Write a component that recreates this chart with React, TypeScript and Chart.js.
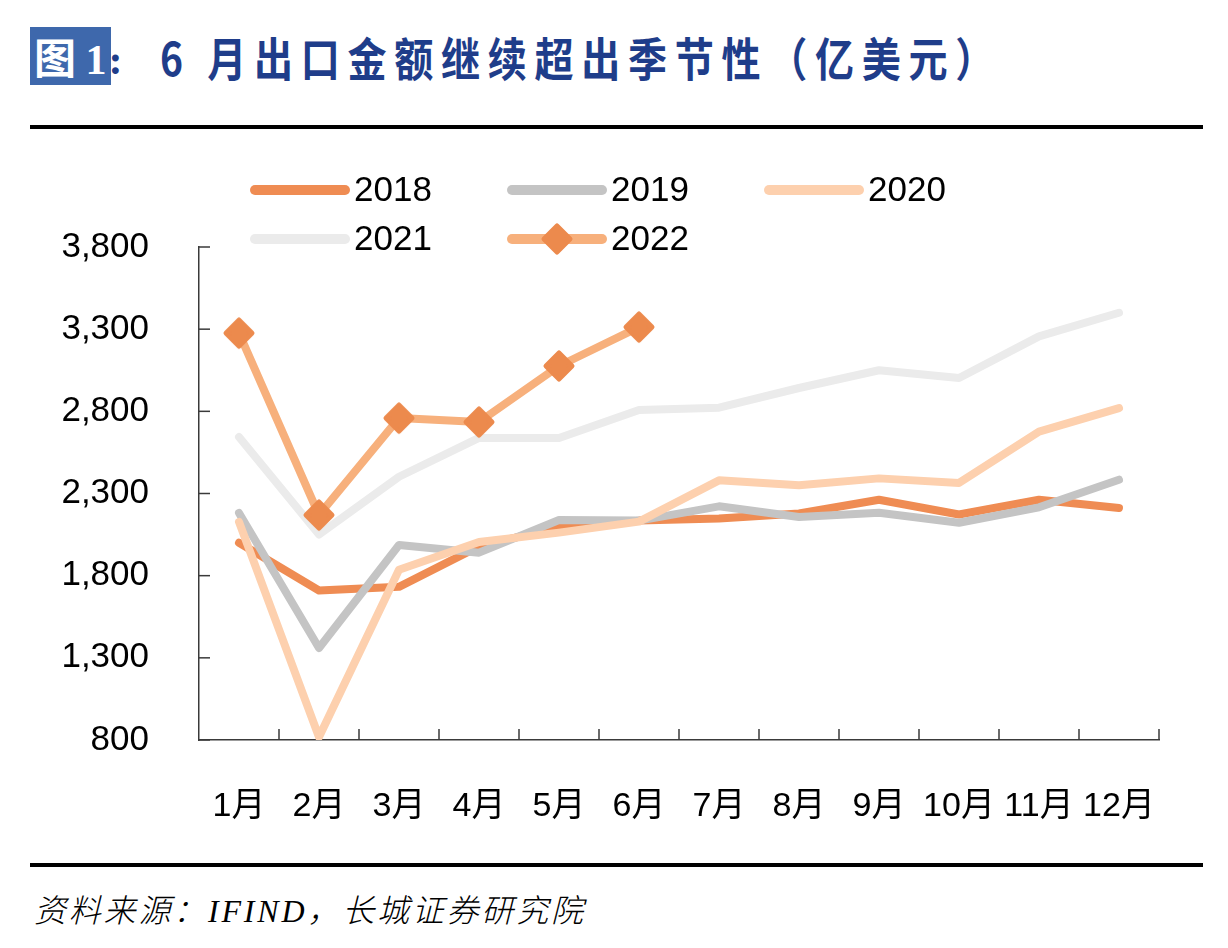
import React, { useEffect, useRef } from 'react';
import { Chart, registerables } from 'chart.js';

Chart.register(...registerables);

const months = ['1月', '2月', '3月', '4月', '5月', '6月', '7月', '8月', '9月', '10月', '11月', '12月'];
const seriesNames = ['2018', '2019', '2020', '2021', '2022'];
const values2018 = [2000, 1710, 1732, 1978, 2095, 2135, 2148, 2178, 2262, 2172, 2262, 2212];
const values2019 = [2181, 1360, 1987, 1940, 2139, 2135, 2222, 2157, 2183, 2122, 2216, 2384];
const values2020 = [2127, 818, 1836, 2005, 2062, 2129, 2380, 2350, 2392, 2364, 2676, 2820];
const values2021 = [2644, 2050, 2402, 2638, 2638, 2808, 2822, 2942, 3050, 3003, 3256, 3400];
const values2022 = [3276, 2169, 2759, 2735, 3076, 3313, null, null, null, null, null, null];
const yTickValues = [800, 1300, 1800, 2300, 2800, 3300, 3800];

const lineColors = ['#EF8C53', '#C4C4C4', '#FDD0AE', '#EBEBEB', '#F7B07C'];
const markerColor = '#EC8A4D';

function makeDiamond(): HTMLCanvasElement {
  const c = document.createElement('canvas');
  c.width = 34;
  c.height = 34;
  const g = c.getContext('2d')!;
  g.fillStyle = markerColor;
  g.strokeStyle = markerColor;
  g.lineWidth = 5;
  g.lineJoin = 'round';
  g.beginPath();
  g.moveTo(17, 4);
  g.lineTo(30, 17);
  g.lineTo(17, 30);
  g.lineTo(4, 17);
  g.closePath();
  g.fill();
  g.stroke();
  return c;
}

const inwardTicks = {
  id: 'inwardTicks',
  beforeDatasetsDraw(chart: any) {
    const { ctx, chartArea, scales } = chart;
    const xs = scales.x;
    const ys = scales.y;
    ctx.save();
    ctx.strokeStyle = '#3a3a3a';
    ctx.lineWidth = 1.5;
    ys.ticks.forEach((_t: any, i: number) => {
      const py = ys.getPixelForTick(i);
      ctx.beginPath();
      ctx.moveTo(chartArea.left, py);
      ctx.lineTo(chartArea.left + 11, py);
      ctx.stroke();
    });
    const n = months.length;
    const w = (xs.right - xs.left) / n;
    for (let k = 1; k <= n; k++) {
      const px = xs.left + k * w;
      ctx.beginPath();
      ctx.moveTo(px, chartArea.bottom);
      ctx.lineTo(px, chartArea.bottom - 11);
      ctx.stroke();
    }
    ctx.restore();
  },
};

const gridLegend = {
  id: 'gridLegend',
  afterDraw(chart: any) {
    const ctx = chart.ctx;
    chart.data.datasets.forEach((ds: any, i: number) => {
      const col = i % 3;
      const row = Math.floor(i / 3);
      const x0 = 250 + col * 257;
      const y0 = 50 + row * 49;
      ctx.save();
      ctx.strokeStyle = ds.borderColor;
      ctx.lineWidth = 10;
      ctx.lineCap = 'round';
      ctx.beginPath();
      ctx.moveTo(x0 + 5, y0);
      ctx.lineTo(x0 + 95, y0);
      ctx.stroke();
      if (ds.pointStyle && typeof ds.pointStyle !== 'string') {
        const img = ds.pointStyle as HTMLCanvasElement;
        ctx.drawImage(img, x0 + 50 - img.width / 2, y0 - img.height / 2);
      }
      ctx.fillStyle = '#000';
      ctx.font = '35px "Liberation Sans", Arial, sans-serif';
      ctx.textBaseline = 'middle';
      ctx.textAlign = 'left';
      ctx.fillText(ds.label, x0 + 104, y0 + 1);
      ctx.restore();
    });
  },
};

export default function App() {
  const canvasRef = useRef<HTMLCanvasElement | null>(null);

  useEffect(() => {
    const canvas = canvasRef.current;
    if (!canvas) return;
    const diamond = makeDiamond();
    const allValues = [values2018, values2019, values2020, values2021, values2022];
    const datasets = seriesNames.map((name, i) => ({
      label: name,
      data: allValues[i],
      borderColor: lineColors[i],
      backgroundColor: lineColors[i],
      borderWidth: 8,
      borderCapStyle: 'round' as const,
      borderJoinStyle: 'round' as const,
      tension: 0,
      pointRadius: i === 4 ? 16 : 0,
      pointHoverRadius: i === 4 ? 16 : 0,
      pointStyle: i === 4 ? (diamond as any) : 'circle',
      order: 5 - i,
      spanGaps: false,
    }));

    const chart = new Chart(canvas, {
      type: 'line',
      data: { labels: months, datasets },
      options: {
        animation: false,
        responsive: false,
        maintainAspectRatio: false,
        events: [],
        layout: { padding: { left: 0, right: 69, top: 107, bottom: 0 } },
        plugins: {
          legend: { display: false },
          tooltip: { enabled: false },
          title: { display: false },
        },
        scales: {
          x: {
            type: 'category',
            offset: true,
            grid: { display: false },
            border: { display: true, color: '#3a3a3a', width: 1.5 },
            ticks: {
              color: '#000',
              padding: 38,
              maxRotation: 0,
              autoSkip: false,
              font: { family: '"Liberation Sans", "Noto Sans CJK SC", sans-serif', size: 34 },
            },
            afterFit(scale: any) {
              scale.height = 120;
            },
          },
          y: {
            min: 800,
            max: 3800,
            afterBuildTicks(scale: any) {
              scale.ticks = yTickValues.map((v) => ({ value: v }));
            },
            grid: { display: false },
            border: { display: true, color: '#3a3a3a', width: 1.5 },
            ticks: {
              color: '#000',
              padding: 42,
              font: { family: '"Liberation Sans", Arial, sans-serif', size: 35 },
              callback: (v: any) => Number(v).toLocaleString('en-US'),
            },
            afterFit(scale: any) {
              scale.width = 199;
            },
          },
        },
      },
      plugins: [inwardTicks, gridLegend],
    });
    return () => chart.destroy();
  }, []);

  return (
    <div style={{ position: 'absolute', left: 0, top: 0, width: 1228, height: 948, background: '#fff', overflow: 'hidden' }}>
      <div
        style={{
          position: 'absolute',
          left: 30,
          top: 27,
          width: 81,
          height: 58,
          background: '#3E68AC',
        }}
      />
      <div
        style={{
          position: 'absolute',
          left: 34,
          top: 26,
          height: 60,
          lineHeight: '60px',
          fontSize: 42,
          fontWeight: 700,
          color: '#fff',
          fontFamily: '"Noto Sans CJK SC", sans-serif',
          whiteSpace: 'nowrap',
        }}
      >
        图 <span style={{ fontFamily: '"Liberation Serif", serif' }}>1</span>
        <span style={{ color: '#1F3D8A', fontFamily: '"Liberation Serif", serif', marginLeft: 2 }}>:</span>
      </div>
      <div
        style={{
          position: 'absolute',
          left: 160,
          top: 26,
          height: 60,
          lineHeight: '60px',
          fontSize: 46,
          fontWeight: 700,
          letterSpacing: '9px',
          color: '#1F3D8A',
          fontFamily: '"Noto Sans CJK SC", sans-serif',
          whiteSpace: 'nowrap',
          transform: 'scaleX(0.85)',
          transformOrigin: 'left center',
        }}
      >
        6 月出口金额继续超出季节性（亿美元）
      </div>
      <div style={{ position: 'absolute', left: 30, top: 125, width: 1173, height: 4, background: '#000' }} />
      <canvas
        ref={canvasRef}
        width={1228}
        height={720}
        style={{ position: 'absolute', left: 0, top: 140, width: 1228, height: 720 }}
      />
      <div style={{ position: 'absolute', left: 30, top: 863, width: 1173, height: 4, background: '#000' }} />
      <div
        style={{
          position: 'absolute',
          left: 34,
          top: 890,
          lineHeight: '36px',
          fontSize: 32,
          fontStyle: 'italic',
          letterSpacing: '2.8px',
          color: '#000',
          fontFamily: '"Noto Sans CJK SC", sans-serif',
          fontWeight: 300,
          whiteSpace: 'nowrap',
        }}
      >
        资料来源：<span style={{ fontFamily: '"Liberation Serif", serif' }}>IFIND</span>，长城证券研究院
      </div>
    </div>
  );
}
